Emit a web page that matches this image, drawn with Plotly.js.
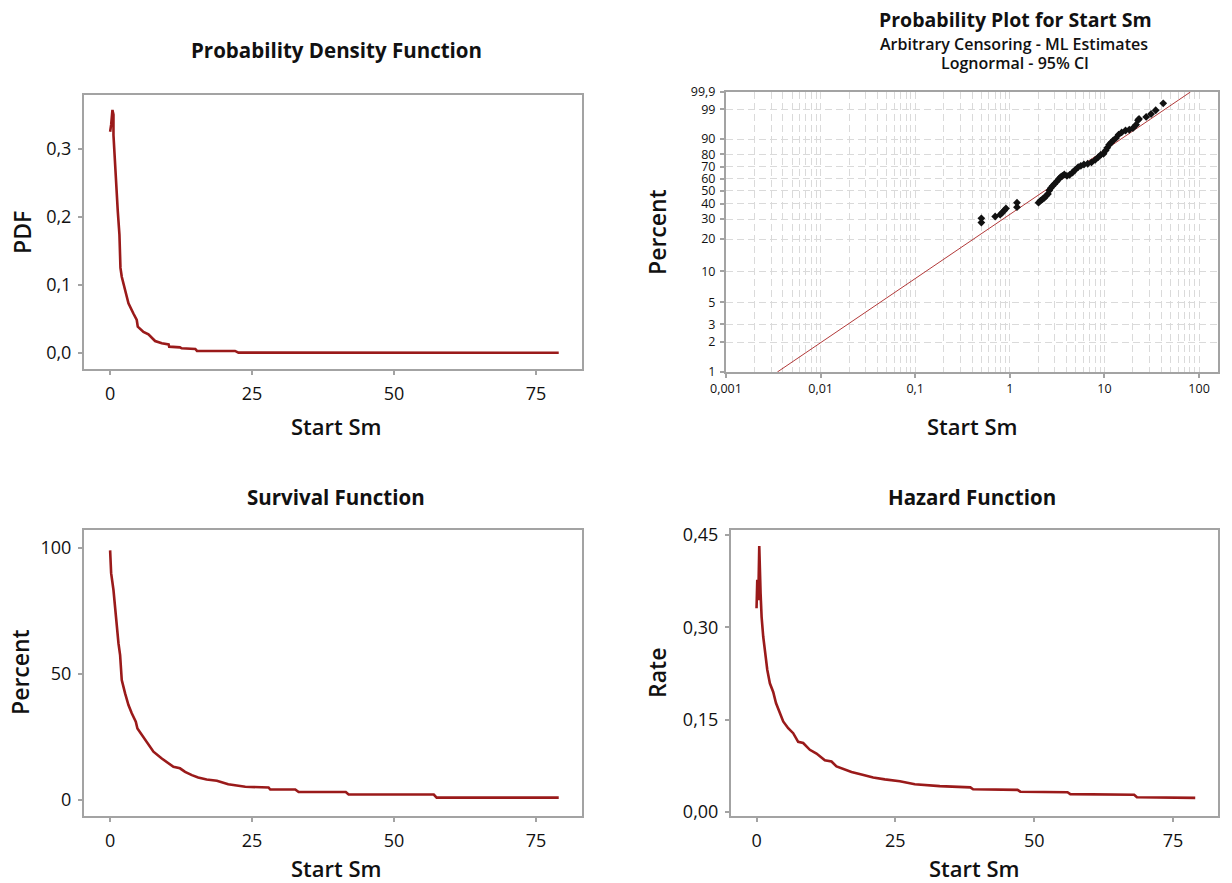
<!DOCTYPE html>
<html>
<head>
<meta charset="utf-8">
<script src="https://cdn.plot.ly/plotly-3.0.1.min.js"></script>
<style>html,body{margin:0;padding:0;background:#fff;} #chart{width:1232px;height:883px;}</style>
</head>
<body>
<div id="chart"></div>
<script>
// ---------- Data ----------
const pdfX = [0, 0.18, 0.41, 0.59, 0.59, 0.76, 1.0, 1.35, 1.64, 1.82, 2.05, 2.64, 3.23, 4.1, 4.69, 4.87, 5.87, 6.75, 7.92, 9.1, 10.3, 10.4, 12.3, 12.6, 15.0, 15.3, 22.0, 22.6, 79];
const pdfY = [0.325, 0.335, 0.357, 0.35, 0.32, 0.291, 0.252, 0.208, 0.174, 0.125, 0.112, 0.093, 0.073, 0.058, 0.0485, 0.0387, 0.031, 0.0275, 0.0176, 0.0142, 0.0127, 0.0093, 0.0083, 0.0069, 0.0059, 0.003, 0.003, 0.0005, 0.0003];

const survX = [0, 0.18, 0.59, 0.88, 1.17, 1.47, 1.76, 1.88, 2.05, 2.64, 3.23, 3.81, 4.52, 4.81, 5.57, 6.75, 7.63, 9.1, 9.98, 11.15, 12.3, 13.2, 14.4, 15.5, 17.0, 18.8, 20.8, 23.8, 27.9, 28.2, 32.6, 33.2, 41.5, 42, 57, 57.5, 79];
const survY = [99, 90, 83.3, 75.4, 67.5, 62.2, 57.5, 50.3, 47.6, 42.3, 37.7, 34.4, 31.1, 28.4, 25.8, 21.8, 19.2, 16.5, 15.2, 13.2, 12.6, 11.2, 9.9, 9.0, 8.2, 7.7, 6.3, 5.3, 5.0, 4.2, 4.2, 3.2, 3.2, 2.2, 2.2, 1.0, 1.0];

const hazX = [0, 0.13, 0.31, 0.49, 0.73, 0.91, 1.2, 1.5, 1.93, 2.4, 3.0, 3.5, 4.2, 4.8, 5.7, 6.6, 7.5, 8.4, 9.6, 10.8, 12.3, 13.5, 14.4, 15.6, 17.1, 18.9, 21.0, 23.1, 25.8, 28.5, 33, 38.5, 39, 47, 47.5, 56, 56.5, 68, 68.5, 79];
const hazY = [0.331, 0.377, 0.344, 0.432, 0.355, 0.317, 0.285, 0.258, 0.231, 0.209, 0.195, 0.177, 0.160, 0.147, 0.136, 0.128, 0.114, 0.112, 0.101, 0.095, 0.084, 0.082, 0.074, 0.070, 0.065, 0.061, 0.056, 0.053, 0.050, 0.045, 0.042, 0.040, 0.037, 0.036, 0.033, 0.032, 0.029, 0.028, 0.024, 0.023];

const probX = [0.5, 0.5, 0.7, 0.79, 0.83, 0.87, 0.91, 1.19, 1.19, 2.01, 2.11, 2.21, 2.31, 2.42, 2.53, 2.61, 2.70, 2.83, 2.96, 3.13, 3.28, 3.43, 3.59, 3.76, 4.01, 4.28, 4.60, 4.91, 5.28, 5.63, 6.07, 6.65, 7.29, 7.99, 8.60, 9.17, 9.78, 10.3, 10.7, 11.2, 11.8, 12.4, 13.2, 14.1, 15.2, 16.7, 18.3, 20.0, 21.6, 22.6, 23.2, 27.6, 31.1, 34.8, 41.8];
const probPct = [30.4, 28.0, 31.5, 32.6, 33.9, 35.2, 36.6, 40.7, 37.5, 40.7, 42.2, 43.2, 44.2, 45.8, 47.3, 50.0, 51.9, 53.8, 55.5, 57.5, 59.5, 61.2, 62.4, 63.5, 62.4, 63.2, 65.2, 67.5, 69.8, 70.9, 72.0, 72.6, 73.7, 75.8, 77.9, 79.8, 80.5, 82.9, 84.7, 86.7, 88.1, 89.3, 90.5, 92.2, 93.2, 94.0, 94.3, 94.9, 96.0, 97.2, 97.5, 97.9, 98.4, 98.9, 99.5];

const fitX = [0.00349, 81];
const fitPct = [1, 99.9];

const pctTicks = [1, 2, 3, 5, 10, 20, 30, 40, 50, 60, 70, 80, 90, 99, 99.9];
const pctTickText = ['1', '2', '3', '5', '10', '20', '30', '40', '50', '60', '70', '80', '90', '99', '99,9'];
const logTicks = [0.001, 0.01, 0.1, 1, 10, 100];
const logTickText = ['0,001', '0,01', '0,1', '1', '10', '100'];

const xTicks = [0, 25, 50, 75];
const pdfTicks = [0, 0.1, 0.2, 0.3];
const pdfTickText = ['0,0', '0,1', '0,2', '0,3'];
const survTicks = [0, 50, 100];
const hazTicks = [0, 0.15, 0.30, 0.45];
const hazTickText = ['0,00', '0,15', '0,30', '0,45'];

// probability-paper scale (smallest extreme value) transform
function tr(p) { return Math.log(-Math.log(1 - p / 100)); }

// minor log grid positions
const minorLog = [];
[0.001, 0.01, 0.1, 1, 10].forEach(d => { for (let k = 2; k <= 9; k++) minorLog.push(d * k); });

// ---------- Styling ----------
const W = 1232, H = 883;
const FONT = 'Open Sans, Noto Sans, sans-serif';
const RED = '#9a1a1a';
const FRAME = '#a3a3a3';

function px(x) { return x / W; }
function py(y) { return 1 - y / H; }

function frameAxis(extra) {
  return Object.assign({
    showline: true, mirror: true, linecolor: FRAME, linewidth: 2,
    ticks: 'outside', ticklen: 4, tickwidth: 2, tickcolor: FRAME,
    showgrid: false, zeroline: false, fixedrange: true,
    tickfont: {family: FONT, size: 18, color: '#111'},
    ticklabelstandoff: 3
  }, extra);
}

const traces = [
  {x: pdfX, y: pdfY, xaxis: 'x', yaxis: 'y', mode: 'lines', line: {color: RED, width: 2.6}, hoverinfo: 'skip'},
  {x: fitX, y: fitPct.map(tr), xaxis: 'x2', yaxis: 'y2', mode: 'lines', line: {color: '#b23a3a', width: 1}, hoverinfo: 'skip'},
  {x: probX, y: probPct.map(tr), xaxis: 'x2', yaxis: 'y2', mode: 'markers', marker: {color: '#111', size: 6, symbol: 'diamond'}, hoverinfo: 'skip'},
  {x: survX, y: survY, xaxis: 'x3', yaxis: 'y3', mode: 'lines', line: {color: RED, width: 2.6}, hoverinfo: 'skip'},
  {x: hazX, y: hazY, xaxis: 'x4', yaxis: 'y4', mode: 'lines', line: {color: RED, width: 2.6}, hoverinfo: 'skip'}
];

const gridCol = '#dadada';
const gridDash = '7px,4px';

const layout = {
  width: W, height: H,
  margin: {l: 0, r: 0, t: 0, b: 0},
  paper_bgcolor: '#fff', plot_bgcolor: '#fff',
  showlegend: false,
  font: {family: FONT, color: '#111'},
  xaxis: frameAxis({domain: [px(84), px(582)], range: [-4.6, 83.1], tickvals: xTicks, ticktext: xTicks.map(String), anchor: 'y'}),
  yaxis: frameAxis({domain: [py(369), py(95)], range: [-0.0235, 0.379], tickvals: pdfTicks, ticktext: pdfTickText, anchor: 'x'}),
  xaxis2: frameAxis({domain: [px(726), px(1218)], type: 'log', range: [-3, 2.2], tickvals: logTicks, ticktext: logTickText, anchor: 'y2',
    tickfont: {family: FONT, size: 12.5, color: '#111'}, ticklabelstandoff: 0,
    showgrid: true, gridcolor: gridCol, gridwidth: 1, griddash: gridDash,
    minor: {tickvals: minorLog, showgrid: true, gridcolor: gridCol, gridwidth: 1, griddash: gridDash, ticks: ''}}),
  yaxis2: frameAxis({domain: [py(372), py(92)], range: [tr(1), tr(99.9)], tickvals: pctTicks.map(tr), ticktext: pctTickText, anchor: 'x2',
    tickfont: {family: FONT, size: 12.5, color: '#111'}, ticklabelstandoff: 2,
    showgrid: true, gridcolor: gridCol, gridwidth: 1, griddash: gridDash}),
  xaxis3: frameAxis({domain: [px(84), px(582)], range: [-4.6, 83.1], tickvals: xTicks, ticktext: xTicks.map(String), anchor: 'y3'}),
  yaxis3: frameAxis({domain: [py(816), py(530)], range: [-6.3, 107.1], tickvals: survTicks, ticktext: survTicks.map(String), anchor: 'x3'}),
  xaxis4: frameAxis({domain: [px(731), px(1218)], range: [-4.6, 83.1], tickvals: xTicks, ticktext: xTicks.map(String), anchor: 'y4'}),
  yaxis4: frameAxis({domain: [py(816), py(530)], range: [-0.0065, 0.458], tickvals: hazTicks, ticktext: hazTickText, anchor: 'x4'}),
  annotations: []
};

function ann(text, x, y, size, weight, angle) {
  layout.annotations.push({
    text: text, xref: 'paper', yref: 'paper', x: px(x), y: py(y),
    xanchor: 'center', yanchor: 'middle', showarrow: false, textangle: angle || 0,
    font: {family: FONT, size: size, color: '#111', weight: weight}
  });
}

ann('Probability Density Function', 336, 50, 20.5, 700);
ann('Survival Function', 336, 497, 20.5, 700);
ann('Hazard Function', 972, 497, 20.5, 700);
ann('Probability Plot for Start Sm', 1015, 20, 19.5, 700);
ann('Arbitrary Censoring - ML Estimates', 1014, 44, 16, 600);
ann('Lognormal - 95% CI', 1015, 63, 16, 600);

ann('Start Sm', 336, 426, 22, 600);
ann('Start Sm', 972, 426, 22, 600);
ann('Start Sm', 336, 868, 22, 600);
ann('Start Sm', 974, 868, 22, 600);

ann('PDF', 22, 233, 23, 600, -90);
ann('Percent', 657, 232, 23, 600, -90);
ann('Percent', 20, 672, 23, 600, -90);
ann('Rate', 657, 673, 23, 600, -90);

Plotly.newPlot('chart', traces, layout, {staticPlot: true, displayModeBar: false});
</script>
</body>
</html>
